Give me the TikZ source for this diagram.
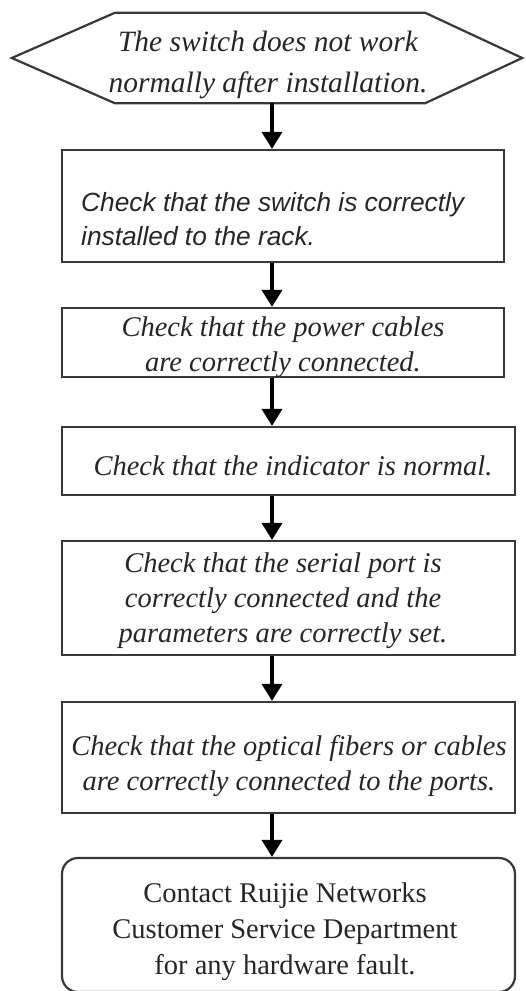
\documentclass[tikz,border=0pt]{standalone}
\usepackage{fontspec}
\setmainfont{Liberation Serif}
\newfontfamily\arialish{Liberation Sans}
\usetikzlibrary{arrows.meta,calc}
\begin{document}
\begin{tikzpicture}[x=1pt,y=1pt,
  boxline/.style={draw=black!78,line width=2.2pt},
  shapebox/.style={boxline,rectangle,inner sep=0pt},
  boxtext/.style={inner sep=0pt,align=center,text=black!85,
    font=\itshape\fontsize{28.5}{35}\selectfont},
  arr/.style={draw=black,line width=3.5pt,-{Triangle[width=20pt,length=17pt]}}]
\useasboundingbox (0,0) rectangle (526,-991);
\coordinate (ax) at (272,0);
% start hexagon
\node (hex) [minimum width=310pt,minimum height=90pt,inner sep=0pt] at (270,-58) {};
\draw[boxline] (hex.north west) -- (hex.north east) -- ($(hex.east)+(97,0)$)
  -- (hex.south east) -- (hex.south west) -- ($(hex.west)+(-103,0)$) -- cycle;
\node (t0) [boxtext,font=\itshape\fontsize{29.5}{41}\selectfont] at (268,-65)
  {The switch does not work\\normally after installation.};
% boxes
\node (b1) [shapebox,minimum width=442pt,minimum height=112pt] at (283,-206) {};
\node (t1) [anchor=base west,inner sep=0pt,align=left,text=black!85,
  font=\arialish\itshape\fontsize{26.3}{34}\selectfont] at (81,-245)
  {Check that the switch is correctly\\installed to the rack.};
\node (b2) [shapebox,minimum width=442pt,minimum height=69pt] at (283,-342.5) {};
\node (t2) [boxtext] at (283,-347) {Check that the power cables\\are correctly connected.};
\node (b3) [shapebox,minimum width=453pt,minimum height=68pt] at (288.5,-461) {};
\node (t3) [boxtext] at (293,-466) {Check that the indicator is normal.};
\node (b4) [shapebox,minimum width=453pt,minimum height=114pt] at (288.5,-598) {};
\node (t4) [boxtext] at (283,-601) {Check that the serial port is\\correctly connected and the\\parameters are correctly set.};
\node (b5) [shapebox,minimum width=453pt,minimum height=111pt] at (288.5,-757.5) {};
\node (t5) [boxtext] at (289,-766) {Check that the optical fibers or cables\\are correctly connected to the ports.};
\node (b6) [shapebox,rounded corners=16pt,minimum width=453pt,minimum height=134pt] at (288.5,-925) {};
\node (t6) [boxtext,font=\fontsize{28.5}{36}\selectfont] at (285,-932)
  {Contact Ruijie Networks\\Customer Service Department\\for any hardware fault.};
% connectors
\draw[arr] (hex.south -| ax) -- (b1.north -| ax);
\draw[arr] (b1.south -| ax) -- (b2.north -| ax);
\draw[arr] (b2.south -| ax) -- (b3.north -| ax);
\draw[arr] (b3.south -| ax) -- (b4.north -| ax);
\draw[arr] (b4.south -| ax) -- (b5.north -| ax);
\draw[arr] (b5.south -| ax) -- (b6.north -| ax);
\end{tikzpicture}
\end{document}
